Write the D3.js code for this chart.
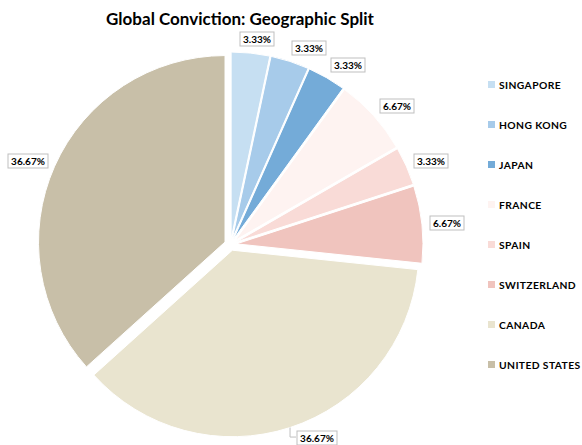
<!DOCTYPE html>
<html>
<head>
<meta charset="utf-8">
<script src="https://cdn.jsdelivr.net/npm/d3@7"></script>
<style>
  body { margin: 0; background: #fff; }
  svg { display: block; font-family: Lato, "Open Sans", sans-serif; }
</style>
</head>
<body>
<div id="chart"></div>
<script>
// data
const countries = ["SINGAPORE", "HONG KONG", "JAPAN", "FRANCE", "SPAIN", "SWITZERLAND", "CANADA", "UNITED STATES"];
const shares = [3.33, 3.33, 3.33, 6.67, 3.33, 6.67, 36.67, 36.67];
const shareLabels = ["3.33%", "3.33%", "3.33%", "6.67%", "3.33%", "6.67%", "36.67%", "36.67%"];
const sliceColors = ["#c6dff2", "#a7cbea", "#74abd8", "#fef3f1", "#f9dbd7", "#f0c4be", "#e9e4cf", "#c8bfa8"];

const width = 582;
const height = 445;
const cx = 230.5, cy = 244.5;
const radius = 186.5;
const explode = 6;

let svg = d3.select("#chart").append("svg")
    .attr("width", width)
    .attr("height", height);

// title
svg.append("text")
    .attr("x", 240)
    .attr("y", 25)
    .attr("text-anchor", "middle")
    .attr("font-weight", "bold")
    .attr("font-size", 17)
    .attr("fill", "#000")
    .text("Global Conviction: Geographic Split");

let pie = d3.pie().sort(null).value(d => d);
let arcs = pie(shares);
let arc = d3.arc().innerRadius(0).outerRadius(radius);

let g = svg.append("g").attr("transform", `translate(${cx},${cy})`);

function midAngle(d) { return (d.startAngle + d.endAngle) / 2; }

// slices, each pushed out a little from the centre
g.selectAll("path.slice")
    .data(arcs)
    .join("path")
    .attr("class", "slice")
    .attr("d", arc)
    .attr("fill", (d, i) => sliceColors[i])
    .attr("stroke", "#fff")
    .attr("stroke-width", 1)
    .attr("transform", d => {
        let a = midAngle(d);
        return `translate(${Math.sin(a) * explode},${-Math.cos(a) * explode})`;
    });

// data labels (outside end, boxed)
let labelG = g.append("g");
arcs.forEach((d, i) => {
    let a = midAngle(d);
    let sx = Math.sin(a), sy = -Math.cos(a);
    let lbl = labelG.append("g");
    let box = lbl.append("rect")
        .attr("fill", "#fff")
        .attr("stroke", "#bfbfbf")
        .attr("stroke-width", 1);
    let txt = lbl.append("text")
        .attr("font-size", 10)
        .attr("font-weight", "bold")
        .attr("fill", "#000")
        .attr("text-anchor", "middle")
        .attr("dy", "0.35em")
        .text(shareLabels[i]);
    let w = txt.node().getComputedTextLength() + 6;
    let h = 14;
    let rEdge = radius + explode;
    let ax = sx * (rEdge + 8), ay = sy * (rEdge + 8);
    let bx = ax + Math.sign(sx) * Math.min(1, 3 * Math.abs(sx)) * w / 2;
    let by = ay + sy * h / 2;
    // no room below: put the box beside the slice with a leader line
    if (cy + by + h / 2 > height) {
        let px = sx * rEdge, py = sy * rEdge;
        bx = px + 6 + w / 2;
        by = py + 2.5 + h / 2;
        labelG.insert("path", ":first-child")
            .attr("d", `M${px},${py}V${by}H${px + 6}`)
            .attr("fill", "none")
            .attr("stroke", "#bfbfbf")
            .attr("stroke-width", 1);
    }
    box.attr("x", Math.round(bx - w / 2) + 0.5)
        .attr("y", Math.round(by - h / 2) + 0.5)
        .attr("width", Math.round(w))
        .attr("height", h);
    txt.attr("x", Math.round(bx - w / 2) + 0.5 + Math.round(w) / 2)
        .attr("y", Math.round(by - h / 2) + 0.5 + h / 2);
});

// legend
let legend = svg.append("g").attr("transform", "translate(488,81)");
let item = legend.selectAll("g")
    .data(countries)
    .join("g")
    .attr("transform", (d, i) => `translate(0,${i * 40})`);
item.append("rect")
    .attr("width", 7)
    .attr("height", 7)
    .attr("fill", (d, i) => sliceColors[i]);
item.append("text")
    .attr("x", 11)
    .attr("y", 7.5)
    .attr("font-size", 10.3)
    .attr("font-weight", "bold")
    .attr("letter-spacing", 0.4)
    .attr("fill", "#000")
    .text(d => d);
</script>
</body>
</html>
